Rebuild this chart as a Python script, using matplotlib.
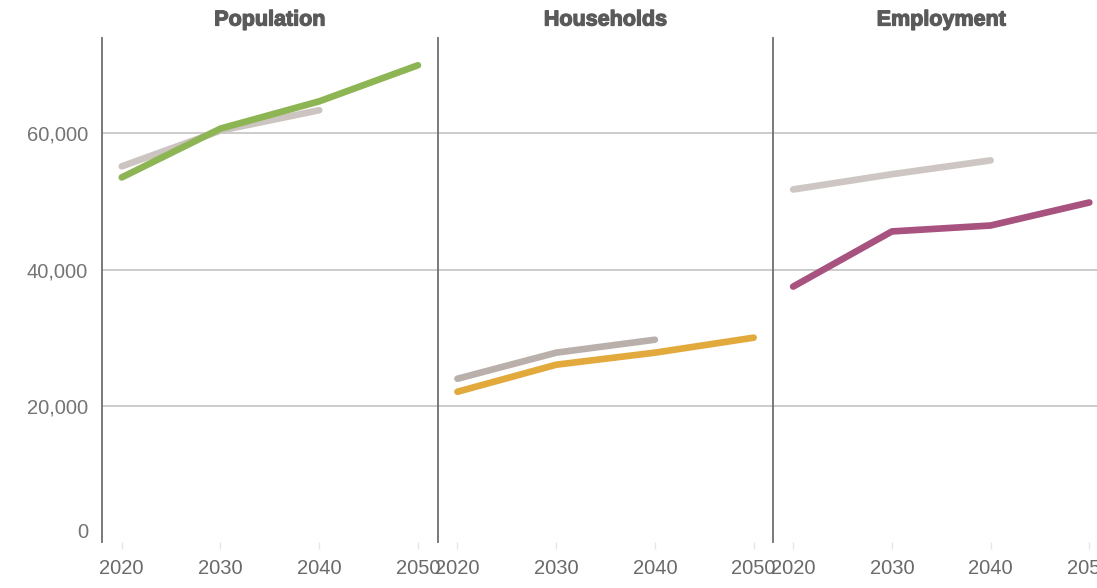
import matplotlib.pyplot as plt
import matplotlib.transforms as mtransforms
import matplotlib.patheffects as pe

plt.rcParams['font.family'] = ['Liberation Sans', 'DejaVu Sans']

years = [2020, 2030, 2040, 2050]
panels = ["Population", "Households", "Employment"]

# 前一期预测 (灰色, 到 2040)
prev_years = [2020, 2030, 2040]
pop_prev = [55150, 60400, 63400]
hh_prev = [23970, 27800, 29700]
emp_prev = [51760, 54000, 56030]

# 当前预测 (彩色, 到 2050)
pop_now = [53530, 60700, 64700, 70000]
hh_now = [22060, 26030, 27800, 30000]
emp_now = [37500, 45600, 46470, 49850]

prev_series = [pop_prev, hh_prev, emp_prev]
now_series = [pop_now, hh_now, emp_now]
prev_colors = ['#cbc4c0', '#bab0ab', '#cdc6c2']
now_colors = ['#8db553', '#e2a93c', '#a7527f']

yticks = [0, 20000, 40000, 60000]

W, H = 1097, 588
fig = plt.figure(figsize=(W / 100, H / 100), dpi=100)

left_px, top_px, bottom_px = 102, 38, 542
panel_w = 335.7

for k in range(3):
    ax = fig.add_axes([(left_px + k * panel_w) / W, (H - bottom_px) / H,
                       panel_w / W, (bottom_px - top_px) / H])
    ax.set_xlim(2018, 2052)
    ax.set_ylim(0, 74000)
    for y in yticks[1:]:
        ax.axhline(y, color='#c8c8c8', lw=1.3, zorder=1)
    ax.plot(prev_years, prev_series[k], color=prev_colors[k], lw=4.8,
            solid_capstyle='round', solid_joinstyle='round', zorder=2)
    ax.plot(years, now_series[k], color=now_colors[k], lw=4.8,
            solid_capstyle='round', solid_joinstyle='round', zorder=3)

    for s in ['top', 'right', 'bottom']:
        ax.spines[s].set_visible(False)
    ax.spines['left'].set_color('#6e6e6e')
    ax.spines['left'].set_linewidth(1.3)

    ax.set_xticks(years)
    ax.set_xticklabels([str(y) for y in years])
    ax.tick_params(axis='x', colors='#e6e6e6', length=5, width=1, pad=7,
                   labelcolor='#6a6a6a', labelsize=14.5)
    ax.set_yticks(yticks)
    if k == 0:
        ax.set_yticklabels([f"{y:,}" for y in yticks])
        ax.tick_params(axis='y', length=0, pad=10, labelcolor='#747474', labelsize=14.5)
        zero = ax.get_yticklabels()[0]
        zero.set_transform(zero.get_transform() +
                           mtransforms.ScaledTranslation(0, 12 / 100, fig.dpi_scale_trans))
    else:
        ax.set_yticklabels([])
        ax.tick_params(axis='y', length=0)

    trans = mtransforms.blended_transform_factory(ax.transAxes, fig.transFigure)
    ax.text(0.5, 1 - 20 / H, panels[k], transform=trans,
            ha='center', va='center', fontsize=15.5, fontweight='bold', color='#5a5a5a',
            path_effects=[pe.withStroke(linewidth=0.9, foreground='#5a5a5a')])

fig.savefig('out.png', dpi=100)
